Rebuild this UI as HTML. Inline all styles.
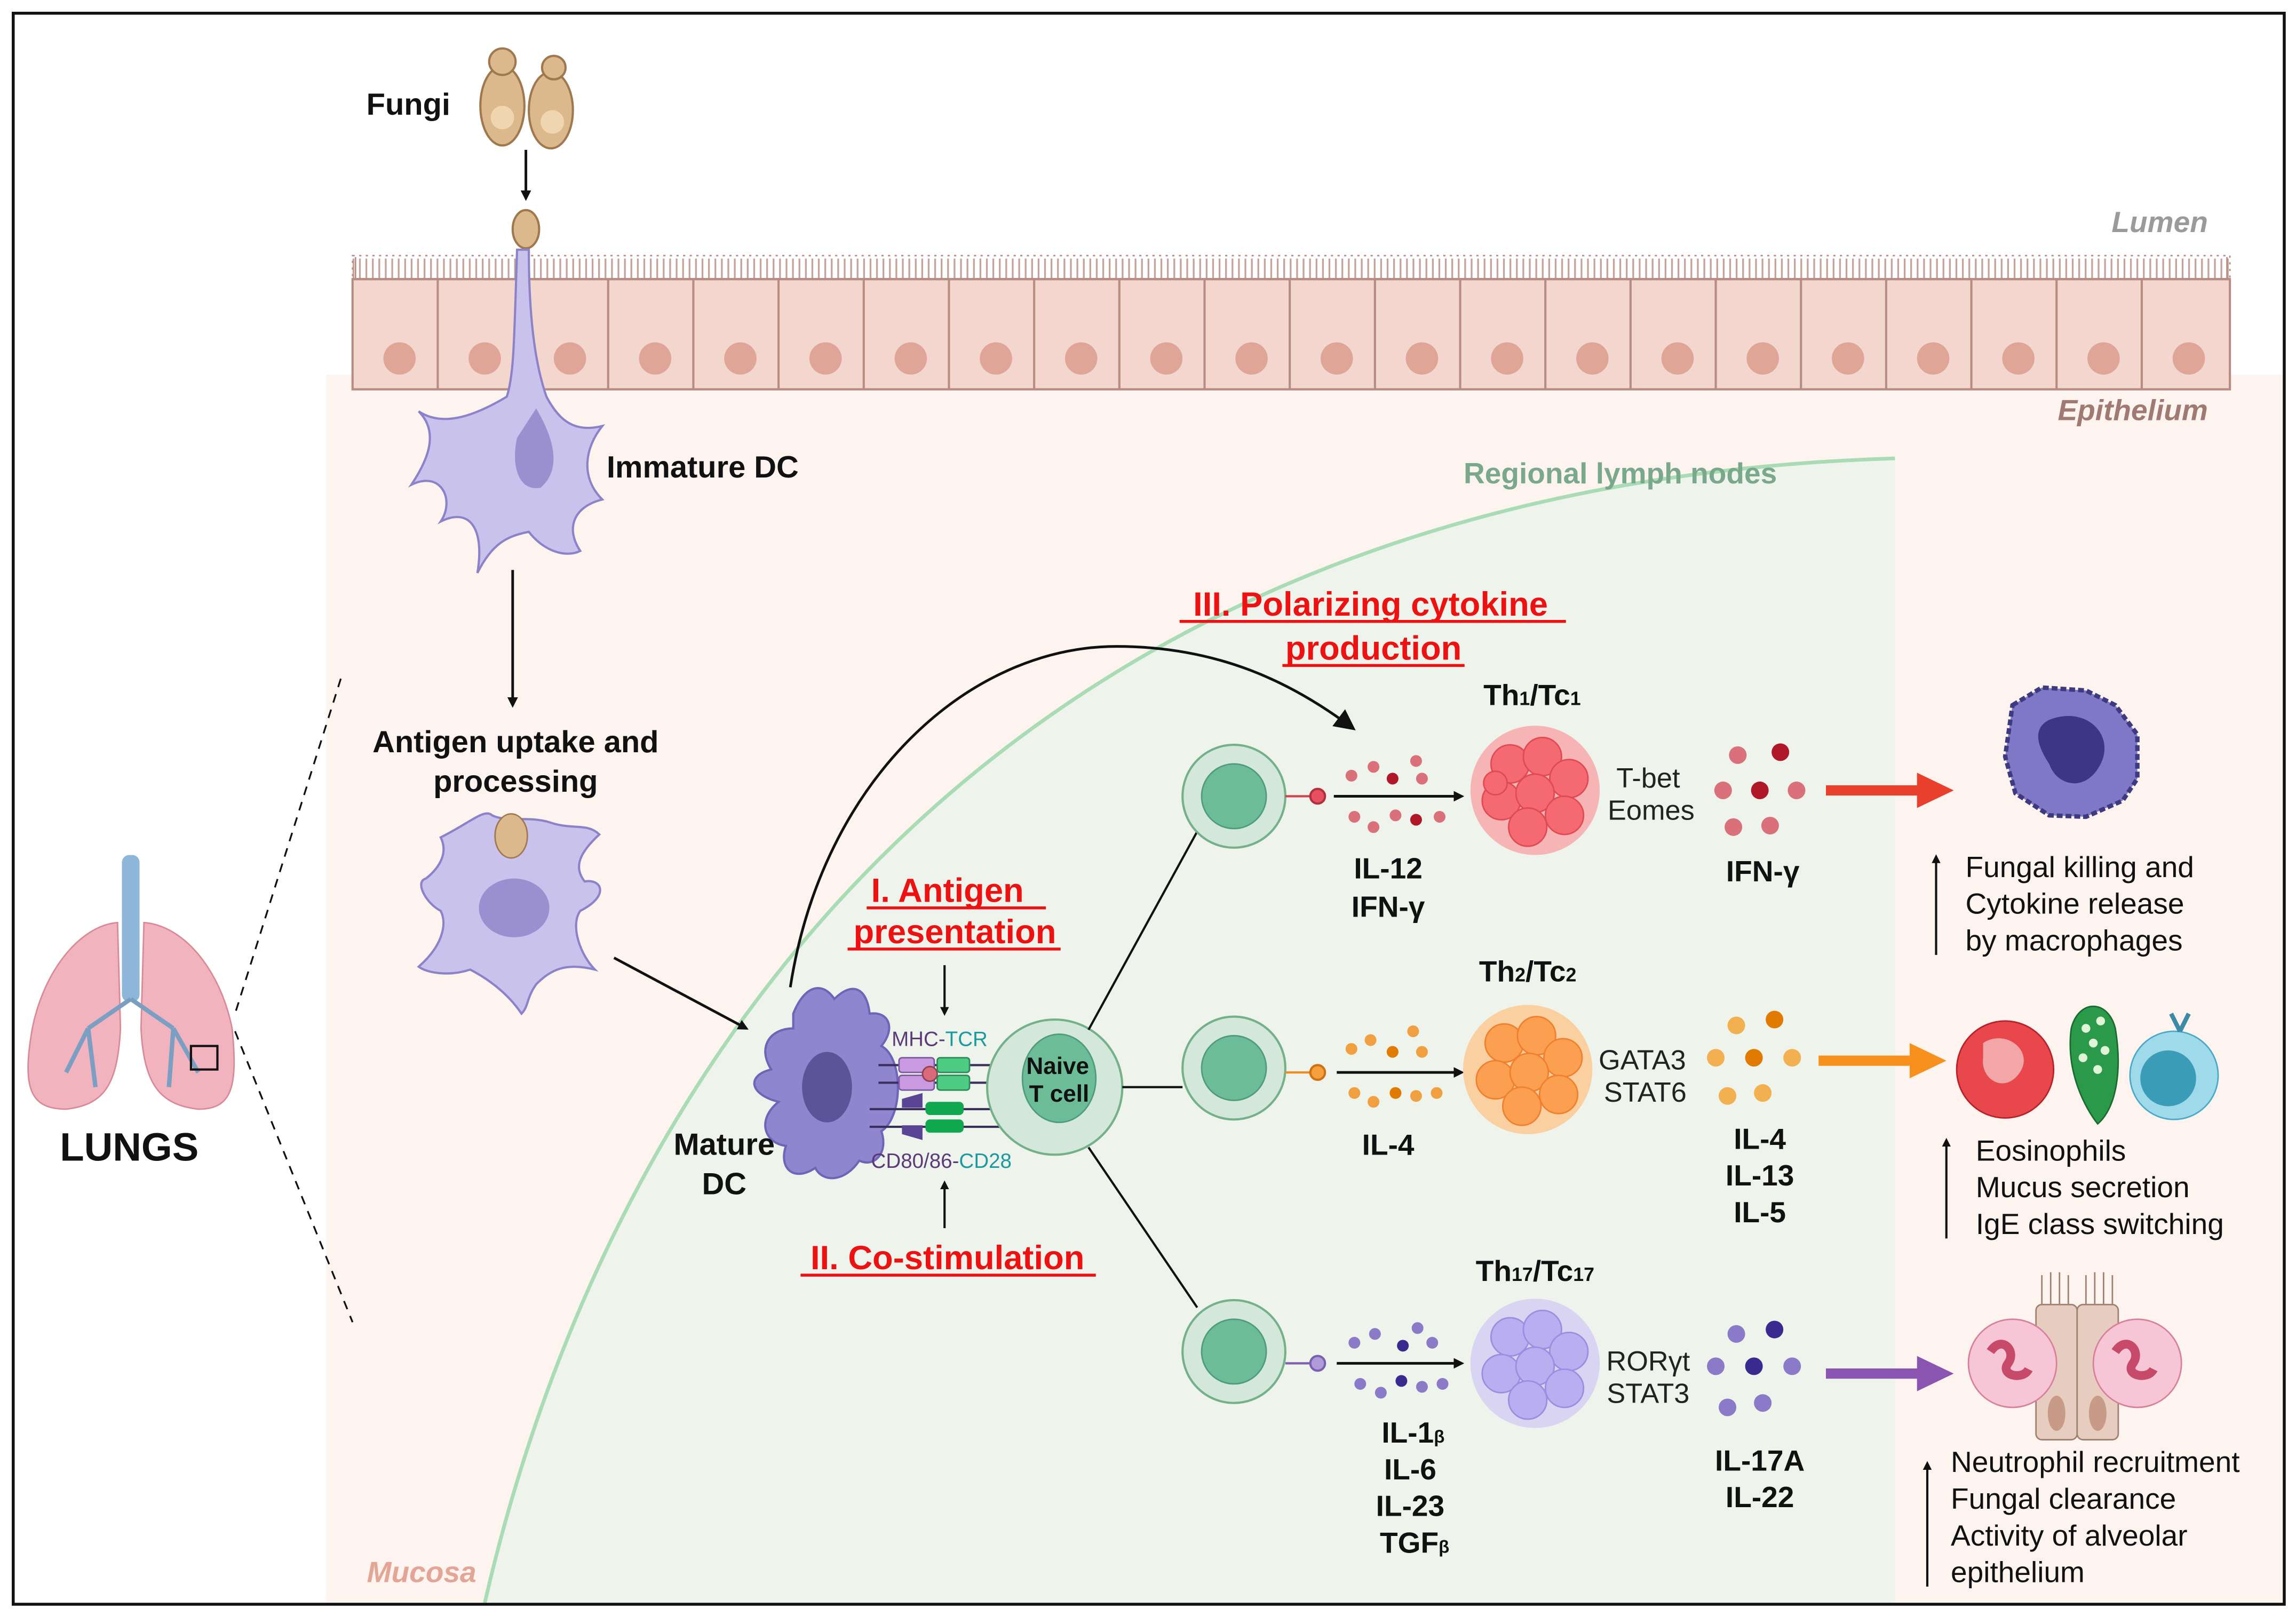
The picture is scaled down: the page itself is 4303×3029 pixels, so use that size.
<!DOCTYPE html>
<html><head><meta charset="utf-8"><style>
html,body{margin:0;padding:0;background:#fff}
svg{display:block}
text{font-family:"Liberation Sans",Arial,sans-serif}
.b{font-weight:bold;fill:#111}
</style></head><body>
<svg width="4303" height="3029" viewBox="0 0 1563 1100" preserveAspectRatio="none" xmlns="http://www.w3.org/2000/svg">
<defs>
<marker id="ah" markerWidth="8" markerHeight="8" refX="6" refY="4" orient="auto" markerUnits="strokeWidth"><path d="M0,0 L8,4 L0,8 z" fill="#111"/></marker>
<marker id="ahb" markerWidth="4" markerHeight="4" refX="3" refY="2" orient="auto" markerUnits="strokeWidth"><path d="M0,0 L4,2 L0,4 z" fill="#111"/></marker>
<g id="cell"><circle r="35" fill="#d3e8da" stroke="#74b08a" stroke-width="1.5"/><circle r="22" fill="#6dbc98" stroke="#4f9c7a" stroke-width="1"/></g>
</defs>
<rect x="0" y="0" width="1563" height="1100" fill="#fff"/>
<!-- mucosa -->
<rect x="222" y="255" width="1332" height="836" fill="#fdf3ef"/>
<!-- lymph node -->
<path d="M330,1091 C420,700 700,330 1290,312 L1290,1091 Z" fill="#eef4ec"/>
<path d="M330,1091 C420,700 700,330 1290,312" fill="none" stroke="#a9dbb4" stroke-width="2.5"/>
<!-- epithelium -->
<g id="epi">
<rect x="240" y="190" width="1278" height="75" fill="#f3d6cd" stroke="#b78c82" stroke-width="1.5"/>
</g>
<g stroke="#b78c82" stroke-width="1.5" fill="#dda79a">
<script></script>
</g>
<g id="cells"></g>
<!-- cell walls & nuclei generated -->
<g stroke="#b78c82" stroke-width="1.5">
<line x1="298" y1="190" x2="298" y2="265"/><line x1="356" y1="190" x2="356" y2="265"/><line x1="414" y1="190" x2="414" y2="265"/><line x1="472" y1="190" x2="472" y2="265"/><line x1="530" y1="190" x2="530" y2="265"/><line x1="588" y1="190" x2="588" y2="265"/><line x1="646" y1="190" x2="646" y2="265"/><line x1="704" y1="190" x2="704" y2="265"/><line x1="762" y1="190" x2="762" y2="265"/><line x1="820" y1="190" x2="820" y2="265"/><line x1="878" y1="190" x2="878" y2="265"/><line x1="936" y1="190" x2="936" y2="265"/><line x1="994" y1="190" x2="994" y2="265"/><line x1="1052" y1="190" x2="1052" y2="265"/><line x1="1110" y1="190" x2="1110" y2="265"/><line x1="1168" y1="190" x2="1168" y2="265"/><line x1="1226" y1="190" x2="1226" y2="265"/><line x1="1284" y1="190" x2="1284" y2="265"/><line x1="1342" y1="190" x2="1342" y2="265"/><line x1="1400" y1="190" x2="1400" y2="265"/><line x1="1458" y1="190" x2="1458" y2="265"/>
</g>
<g fill="#dfa698">
<circle cx="272" cy="244" r="11"/><circle cx="330" cy="244" r="11"/><circle cx="388" cy="244" r="11"/><circle cx="446" cy="244" r="11"/><circle cx="504" cy="244" r="11"/><circle cx="562" cy="244" r="11"/><circle cx="620" cy="244" r="11"/><circle cx="678" cy="244" r="11"/><circle cx="736" cy="244" r="11"/><circle cx="794" cy="244" r="11"/><circle cx="852" cy="244" r="11"/><circle cx="910" cy="244" r="11"/><circle cx="968" cy="244" r="11"/><circle cx="1026" cy="244" r="11"/><circle cx="1084" cy="244" r="11"/><circle cx="1142" cy="244" r="11"/><circle cx="1200" cy="244" r="11"/><circle cx="1258" cy="244" r="11"/><circle cx="1316" cy="244" r="11"/><circle cx="1374" cy="244" r="11"/><circle cx="1432" cy="244" r="11"/><circle cx="1490" cy="244" r="11"/>
</g>
<path d="M242,190 L242,175 M1516,190 L1516,175" stroke="#b78c82"/>
<rect x="240" y="174" width="1278" height="16" fill="none" stroke="#b78c82" stroke-width="1" stroke-dasharray="1.5 3"/>
<line x1="240" y1="183" x2="1518" y2="183" stroke="#b78c82" stroke-width="14" stroke-dasharray="1.2 3.2" opacity="0.8"/>
<line x1="240" y1="190" x2="1518" y2="190" stroke="#b78c82" stroke-width="1.5"/>
<!-- labels top -->
<text x="1503" y="158" font-size="20" font-style="italic" font-weight="bold" fill="#9a9a9a" text-anchor="end">Lumen</text>
<text x="1503" y="286" font-size="20" font-style="italic" font-weight="bold" fill="#a07a72" text-anchor="end">Epithelium</text>
<text x="1103" y="329" font-size="20" font-weight="bold" fill="#7aa88a" text-anchor="middle">Regional lymph nodes</text>
<text x="287" y="1077" font-size="20" font-style="italic" font-weight="bold" fill="#e2a596" text-anchor="middle">Mucosa</text>
<!-- fungi -->
<text x="278" y="78" font-size="21" class="b" text-anchor="middle">Fungi</text>
<g fill="#dcb98c" stroke="#a07850" stroke-width="1.5">
<ellipse cx="342" cy="72" rx="15" ry="27"/><ellipse cx="375" cy="75" rx="15" ry="26"/>
<circle cx="342" cy="42" r="9"/><circle cx="377" cy="46" r="8"/>
<ellipse cx="358" cy="156" rx="9" ry="13"/>
</g>
<circle cx="342" cy="80" r="8" fill="#efd6b0"/><circle cx="376" cy="83" r="8" fill="#efd6b0"/>
<line x1="358" y1="102" x2="358" y2="135" stroke="#111" stroke-width="1.8" marker-end="url(#ahb)"/>
<!-- immature DC -->
<path d="M352,170 C350,230 350,255 345,270 C320,285 300,290 285,280 C300,295 290,315 280,330 C300,320 310,340 300,355 C320,345 330,360 325,390 C335,370 345,365 360,362 C370,375 385,380 395,375 C385,360 390,345 410,340 C395,325 398,305 410,290 C390,295 380,285 372,270 C365,250 360,220 360,170 Z" fill="#c9c2ec" stroke="#8c82c8" stroke-width="1.5"/>
<path d="M365,278 C378,300 382,320 368,332 C352,335 348,315 352,298 Z" fill="#9a90d0"/>
<text x="413" y="325" font-size="21" class="b">Immature DC</text>
<line x1="349" y1="388" x2="349" y2="480" stroke="#111" stroke-width="1.8" marker-end="url(#ahb)"/>
<text x="351" y="512" font-size="21" class="b" text-anchor="middle">Antigen uptake and</text>
<text x="351" y="539" font-size="21" class="b" text-anchor="middle">processing</text>
<!-- DC2 -->
<path d="M300,570 C320,560 330,550 335,555 C345,560 360,555 375,560 C390,565 400,560 408,568 C395,580 390,590 398,600 C410,598 415,610 395,620 C388,630 395,650 405,660 C385,655 375,660 365,670 C358,680 360,685 355,690 C345,675 330,665 320,660 C305,665 290,662 285,658 C300,645 305,630 300,620 C290,615 282,600 290,598 C300,590 305,580 300,570 Z" fill="#c9c2ec" stroke="#8c82c8" stroke-width="1.5"/>
<ellipse cx="350" cy="618" rx="24" ry="20" fill="#9a90d0"/>
<ellipse cx="348" cy="569" rx="11" ry="15" fill="#dcb98c" stroke="#a07850"/>
<line x1="418" y1="652" x2="508" y2="700" stroke="#111" stroke-width="1.8" marker-end="url(#ahb)"/>
<!-- lungs -->
<line x1="232" y1="462" x2="160" y2="690" stroke="#111" stroke-width="1.2" stroke-dasharray="6 5"/>
<line x1="160" y1="702" x2="240" y2="900" stroke="#111" stroke-width="1.2" stroke-dasharray="6 5"/>
<path d="M80,628 C55,630 30,660 22,700 C15,740 20,755 45,755 C70,752 80,740 82,700 Z" fill="#f1b3bd" stroke="#d88a96"/>
<path d="M98,628 C125,630 150,660 158,700 C162,740 158,755 135,755 C110,752 98,740 96,700 Z" fill="#f1b3bd" stroke="#d88a96"/>
<rect x="83" y="582" width="12" height="100" rx="5" fill="#8db6d8"/>
<path d="M89,680 L60,700 M89,680 L118,700 M60,700 L45,730 M60,700 L65,740 M118,700 L135,730 M118,700 L115,740" stroke="#7a9fc2" stroke-width="3" fill="none"/>
<rect x="130" y="712" width="18" height="16" fill="none" stroke="#111" stroke-width="1.5"/>
<text x="88" y="790" font-size="27" class="b" text-anchor="middle">LUNGS</text>
<!-- curved arrow -->
<path d="M538,672 C560,530 660,440 760,440 C830,440 880,465 920,495" fill="none" stroke="#111" stroke-width="1.8" marker-end="url(#ah)"/>
<!-- mature DC -->
<path d="M540,690 C548,670 560,668 568,680 C580,668 590,672 592,690 C605,688 610,700 600,712 C615,720 615,760 600,770 C605,785 595,795 585,790 C575,805 560,805 555,795 C540,805 530,795 535,780 C520,778 515,762 530,750 C510,745 508,732 525,728 C515,712 525,700 540,700 Z" fill="#8f86cf" stroke="#6e64b8" stroke-width="1.5"/>
<ellipse cx="563" cy="740" rx="17" ry="24" fill="#5c5398"/>
<text x="493" y="786" font-size="21" class="b" text-anchor="middle">Mature</text>
<text x="493" y="813" font-size="21" class="b" text-anchor="middle">DC</text>
<!-- receptors -->
<text x="607" y="712" font-size="14"><tspan fill="#5b3a7a">MHC-</tspan><tspan fill="#1a9aa0">TCR</tspan></text>
<g stroke="#3a2e5c" stroke-width="1.5"><line x1="598" y1="725" x2="690" y2="725"/><line x1="598" y1="737" x2="690" y2="737"/><line x1="592" y1="755" x2="700" y2="755"/><line x1="592" y1="767" x2="700" y2="767"/></g>
<rect x="612" y="720" width="24" height="10" rx="2" fill="#c99ae2" stroke="#7a5aa0"/>
<rect x="612" y="732" width="24" height="10" rx="2" fill="#c99ae2" stroke="#7a5aa0"/>
<circle cx="633" cy="731" r="5" fill="#d86a7a" stroke="#904050"/>
<rect x="638" y="720" width="22" height="10" rx="2" fill="#4ecc84" stroke="#2a8a58"/>
<rect x="638" y="732" width="22" height="10" rx="2" fill="#4ecc84" stroke="#2a8a58"/>
<path d="M614,748 l14,-4 l0,10 l-14,0 z M614,766 l14,0 l0,10 l-14,-4 z" fill="#5a4595"/>
<rect x="630" y="750" width="26" height="9" rx="3" fill="#10a84e"/>
<rect x="630" y="762" width="26" height="9" rx="3" fill="#10a84e"/>
<text x="593" y="795" font-size="14"><tspan fill="#5b3a7a">CD80/86-</tspan><tspan fill="#1a9aa0">CD28</tspan></text>
<!-- naive T -->
<circle cx="718" cy="740" r="46" fill="#d3e8da" stroke="#74b08a" stroke-width="1.5"/>
<ellipse cx="721" cy="734" rx="25" ry="30" fill="#6dbc98" stroke="#4f9c7a"/>
<text x="720" y="731" font-size="16" class="b" text-anchor="middle">Naive</text>
<text x="721" y="750" font-size="16" class="b" text-anchor="middle">T cell</text>
<!-- red headings -->
<g font-weight="bold" fill="#ee1111" font-size="23" text-anchor="middle">
<text x="645" y="614">I. Antigen</text><text x="650" y="642">presentation</text>
<text x="645" y="864">II. Co-stimulation</text>
<text x="933" y="419">III. Polarizing cytokine</text><text x="935" y="449">production</text>
</g>
<g stroke="#ee1111" stroke-width="2">
<line x1="590" y1="618" x2="712" y2="618"/><line x1="577" y1="646" x2="722" y2="646"/>
<line x1="545" y1="868" x2="746" y2="868"/>
<line x1="803" y1="423" x2="1066" y2="423"/><line x1="873" y1="453" x2="997" y2="453"/>
</g>
<line x1="643" y1="657" x2="643" y2="690" stroke="#111" stroke-width="1.5" marker-end="url(#ahb)"/>
<line x1="643" y1="836" x2="643" y2="805" stroke="#111" stroke-width="1.5" marker-end="url(#ahb)"/>
<!-- branch lines -->
<g stroke="#111" stroke-width="1.5">
<line x1="741" y1="701" x2="815" y2="566"/><line x1="764" y1="740" x2="805" y2="740"/><line x1="741" y1="781" x2="815" y2="890"/>
</g>
<use href="#cell" x="840" y="542"/><use href="#cell" x="840" y="727"/><use href="#cell" x="840" y="920"/>
<!-- receptors small -->
<g stroke-width="1.5">
<line x1="875" y1="542" x2="893" y2="542" stroke="#d04050"/><circle cx="897" cy="542" r="5" fill="#e85060" stroke="#b03040"/>
<line x1="875" y1="730" x2="893" y2="730" stroke="#f08a20"/><circle cx="897" cy="730" r="5" fill="#f5a040" stroke="#d07010"/>
<line x1="875" y1="928" x2="893" y2="928" stroke="#8060b0"/><circle cx="897" cy="928" r="5" fill="#b09ad8" stroke="#7a60b0"/>
</g>
<g stroke="#111" stroke-width="1.8">
<line x1="908" y1="542" x2="995" y2="542" marker-end="url(#ahb)"/>
<line x1="910" y1="730" x2="995" y2="730" marker-end="url(#ahb)"/>
<line x1="910" y1="928" x2="995" y2="928" marker-end="url(#ahb)"/>
</g>
<!-- cytokine dots row1 -->
<g fill="#d9707a"><circle cx="920" cy="528" r="4"/><circle cx="935" cy="522" r="4"/><circle cx="948" cy="530" r="4" fill="#b01828"/><circle cx="964" cy="518" r="4"/><circle cx="968" cy="530" r="4"/><circle cx="922" cy="556" r="4"/><circle cx="935" cy="563" r="4"/><circle cx="950" cy="555" r="4"/><circle cx="964" cy="558" r="4" fill="#b01828"/><circle cx="980" cy="556" r="4"/></g>
<g fill="#f0a040"><circle cx="920" cy="714" r="4"/><circle cx="933" cy="708" r="4"/><circle cx="948" cy="716" r="4" fill="#e07a00"/><circle cx="962" cy="702" r="4"/><circle cx="968" cy="716" r="4"/><circle cx="922" cy="744" r="4"/><circle cx="935" cy="750" r="4"/><circle cx="950" cy="744" r="4" fill="#e07a00"/><circle cx="964" cy="746" r="4"/><circle cx="978" cy="744" r="4"/></g>
<g fill="#8a7ac8"><circle cx="922" cy="914" r="4"/><circle cx="936" cy="908" r="4"/><circle cx="955" cy="916" r="4" fill="#3a2a90"/><circle cx="965" cy="904" r="4"/><circle cx="975" cy="914" r="4"/><circle cx="926" cy="942" r="4"/><circle cx="940" cy="948" r="4"/><circle cx="954" cy="940" r="4" fill="#3a2a90"/><circle cx="968" cy="944" r="4"/><circle cx="982" cy="942" r="4"/></g>
<!-- clusters -->
<g>
<circle cx="1045" cy="538" r="44" fill="#f7b4b4"/>
<g fill="#f56a70" stroke="#e04a55"><circle cx="1028" cy="520" r="13"/><circle cx="1050" cy="515" r="13"/><circle cx="1068" cy="530" r="13"/><circle cx="1022" cy="545" r="13"/><circle cx="1045" cy="540" r="13"/><circle cx="1065" cy="555" r="13"/><circle cx="1040" cy="563" r="13"/><circle cx="1018" cy="533" r="8"/></g>
<circle cx="1040" cy="728" r="44" fill="#fbd0a0"/>
<g fill="#fba050" stroke="#f08030"><circle cx="1024" cy="710" r="13"/><circle cx="1046" cy="705" r="13"/><circle cx="1064" cy="720" r="13"/><circle cx="1018" cy="735" r="13"/><circle cx="1041" cy="730" r="13"/><circle cx="1061" cy="745" r="13"/><circle cx="1036" cy="753" r="13"/></g>
<circle cx="1045" cy="928" r="44" fill="#dad4f3"/>
<g fill="#b8aef0" stroke="#9a8ee0"><circle cx="1028" cy="910" r="13"/><circle cx="1050" cy="905" r="13"/><circle cx="1068" cy="920" r="13"/><circle cx="1022" cy="935" r="13"/><circle cx="1045" cy="930" r="13"/><circle cx="1065" cy="945" r="13"/><circle cx="1040" cy="953" r="13"/></g>
</g>
<!-- Th labels -->
<text x="1043" y="480" font-size="20" class="b" text-anchor="middle">Th<tspan font-size="13">1</tspan>/Tc<tspan font-size="13">1</tspan></text>
<text x="1040" y="668" font-size="20" class="b" text-anchor="middle">Th<tspan font-size="13">2</tspan>/Tc<tspan font-size="13">2</tspan></text>
<text x="1045" y="872" font-size="20" class="b" text-anchor="middle">Th<tspan font-size="13">17</tspan>/Tc<tspan font-size="13">17</tspan></text>
<g font-size="19" fill="#222" text-anchor="middle">
<text x="1122" y="536">T-bet</text><text x="1124" y="558">Eomes</text>
<text x="1118" y="728">GATA3</text><text x="1120" y="750">STAT6</text>
<text x="1122" y="933">RORγt</text><text x="1122" y="955">STAT3</text>
</g>
<g font-size="20" class="b" text-anchor="middle">
<text x="945" y="598">IL-12</text><text x="945" y="624">IFN-γ</text>
<text x="945" y="786">IL-4</text>
<text x="962" y="982">IL-1<tspan font-size="12">β</tspan></text><text x="960" y="1007">IL-6</text><text x="960" y="1032">IL-23</text><text x="963" y="1057">TGF<tspan font-size="12">β</tspan></text>
<text x="1200" y="600">IFN-γ</text>
<text x="1198" y="782">IL-4</text><text x="1198" y="807">IL-13</text><text x="1198" y="832">IL-5</text>
<text x="1198" y="1001">IL-17A</text><text x="1198" y="1026">IL-22</text>
</g>
<!-- right dots -->
<g fill="#d9707a"><circle cx="1183" cy="514" r="6"/><circle cx="1212" cy="512" r="6" fill="#b01828"/><circle cx="1173" cy="538" r="6"/><circle cx="1198" cy="538" r="6" fill="#b01828"/><circle cx="1223" cy="538" r="6"/><circle cx="1180" cy="563" r="6"/><circle cx="1205" cy="562" r="6"/></g>
<g fill="#f2b050"><circle cx="1182" cy="698" r="6"/><circle cx="1208" cy="694" r="6" fill="#e07a00"/><circle cx="1168" cy="720" r="6"/><circle cx="1194" cy="720" r="6" fill="#e07a00"/><circle cx="1220" cy="720" r="6"/><circle cx="1176" cy="746" r="6"/><circle cx="1200" cy="744" r="6"/></g>
<g fill="#8a7ac8"><circle cx="1182" cy="908" r="6"/><circle cx="1208" cy="905" r="6" fill="#3a2a90"/><circle cx="1168" cy="930" r="6"/><circle cx="1194" cy="930" r="6" fill="#3a2a90"/><circle cx="1220" cy="930" r="6"/><circle cx="1176" cy="958" r="6"/><circle cx="1200" cy="955" r="6"/></g>
<!-- big arrows -->
<line x1="1243" y1="538" x2="1308" y2="538" stroke="#e8402c" stroke-width="7"/><path d="M1305,526 L1330,538 L1305,550 Z" fill="#e8402c"/>
<line x1="1238" y1="722" x2="1303" y2="722" stroke="#f7901c" stroke-width="7"/><path d="M1300,710 L1325,722 L1300,734 Z" fill="#f7901c"/>
<line x1="1243" y1="935" x2="1308" y2="935" stroke="#8a55b0" stroke-width="7"/><path d="M1305,923 L1330,935 L1305,947 Z" fill="#8a55b0"/>
<!-- macrophage -->
<path d="M1370,480 L1390,468 L1420,470 L1440,480 L1455,500 L1455,530 L1445,545 L1420,556 L1395,555 L1372,540 L1365,515 Z" fill="#7f78c6" stroke="#3e3a80" stroke-width="3" stroke-dasharray="4 2"/>
<path d="M1395,490 C1420,480 1440,500 1430,520 C1420,540 1400,535 1395,520 C1385,505 1385,495 1395,490 Z" fill="#3d3685"/>
<!-- eosinophil, goblet, B -->
<circle cx="1365" cy="728" r="33" fill="#e8474c" stroke="#b8202a"/>
<path d="M1350,710 C1365,700 1385,715 1375,730 C1365,745 1348,735 1350,720 Z" fill="#f3a6a8"/>
<path d="M1410,700 C1415,680 1435,680 1440,700 C1445,730 1440,755 1428,765 C1420,755 1406,730 1410,700 Z" fill="#2a9a4a" stroke="#1a6a30"/>
<g fill="#e0f5d8"><circle cx="1420" cy="700" r="3"/><circle cx="1430" cy="695" r="3"/><circle cx="1425" cy="710" r="3"/><circle cx="1433" cy="715" r="3"/><circle cx="1418" cy="720" r="3"/><circle cx="1428" cy="728" r="3"/></g>
<circle cx="1480" cy="732" r="30" fill="#9fdaea" stroke="#4aa8c8"/>
<circle cx="1476" cy="734" r="19" fill="#3b9cb8"/>
<path d="M1484,702 l-6,-12 M1484,702 l6,-12" stroke="#3a8aa8" stroke-width="3"/>
<!-- neutrophils & epithelium -->
<rect x="1386" y="888" width="28" height="92" rx="4" fill="#e7cdc0" stroke="#a08070"/>
<rect x="1414" y="888" width="28" height="92" rx="4" fill="#e7cdc0" stroke="#a08070"/>
<path d="M1390,888 v-20 M1396,888 v-22 M1402,888 v-22 M1408,888 v-20 M1420,888 v-20 M1426,888 v-22 M1432,888 v-22 M1438,888 v-20" stroke="#a08070"/>
<ellipse cx="1400" cy="962" rx="6" ry="12" fill="#c89a88"/><ellipse cx="1428" cy="962" rx="6" ry="12" fill="#c89a88"/>
<circle cx="1370" cy="928" r="30" fill="#f7c6d6" stroke="#d8809a"/>
<circle cx="1455" cy="928" r="30" fill="#f7c6d6" stroke="#d8809a"/>
<path d="M1355,920 c8,-12 18,0 12,8 c-6,8 10,12 14,4" stroke="#c84a6a" stroke-width="6" fill="none"/>
<path d="M1440,920 c8,-12 18,0 12,8 c-6,8 10,12 14,4" stroke="#c84a6a" stroke-width="6" fill="none"/>
<!-- outcome text -->
<g font-size="20" fill="#111">
<text x="1338" y="597">Fungal killing and</text><text x="1338" y="622">Cytokine release</text><text x="1338" y="647">by macrophages</text>
<text x="1345" y="790">Eosinophils</text><text x="1345" y="815">Mucus secretion</text><text x="1345" y="840">IgE class switching</text>
<text x="1328" y="1002">Neutrophil recruitment</text><text x="1328" y="1027">Fungal clearance</text><text x="1328" y="1052">Activity of alveolar</text><text x="1328" y="1077">epithelium</text>
</g>
<g stroke="#111" stroke-width="1.5">
<line x1="1318" y1="650" x2="1318" y2="583" marker-end="url(#ahb)"/>
<line x1="1325" y1="843" x2="1325" y2="776" marker-end="url(#ahb)"/>
<line x1="1312" y1="1080" x2="1312" y2="996" marker-end="url(#ahb)"/>
</g>
<!-- border -->
<rect x="9" y="9" width="1546" height="1083" fill="none" stroke="#111" stroke-width="2"/>
</svg>
</body></html>
